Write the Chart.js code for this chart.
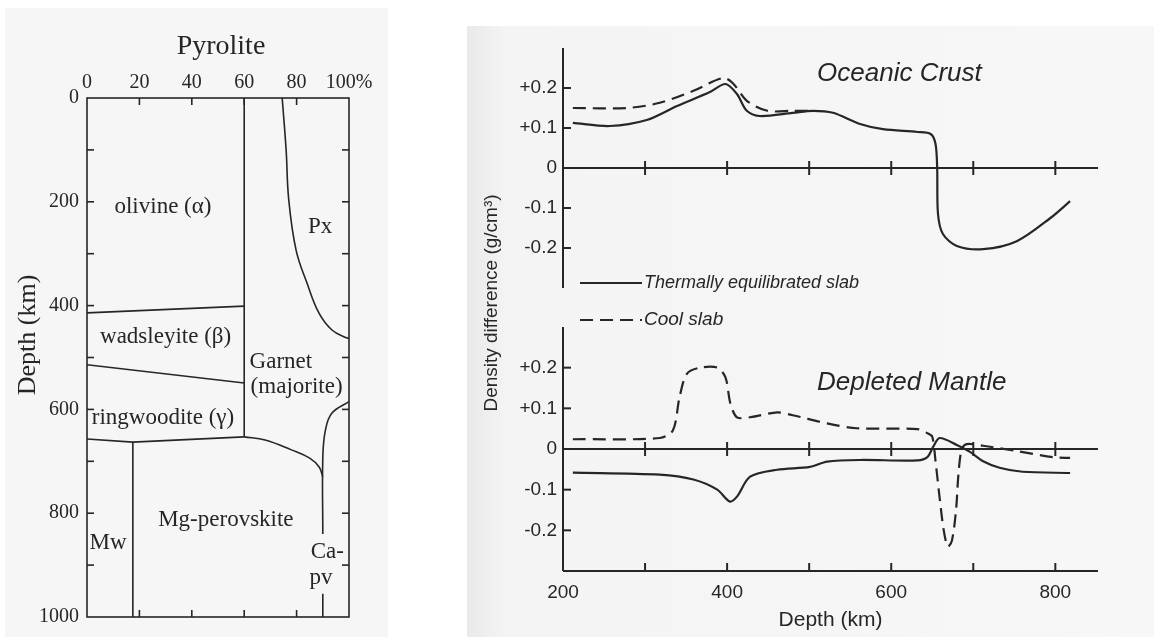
<!DOCTYPE html>
<html>
<head>
<meta charset="utf-8">
<script src="https://cdn.jsdelivr.net/npm/chart.js@4.4.0/dist/chart.umd.min.js"></script>
<style>
  body { margin: 0; width: 1154px; height: 637px; background: #fff; position: relative; overflow: hidden; }
  #leftBg { position: absolute; left: 5px; top: 8px; width: 383px; height: 629px; background: #f6f6f6; }
  #rightBg { position: absolute; left: 467px; top: 26px; width: 687px; height: 611px;
             background: linear-gradient(to right, #e9e9e9, #f4f4f4 40px, #f7f7f7); }
  .box { position: absolute; top: 0; height: 637px; }
</style>
</head>
<body>
<div id="leftBg"></div>
<div id="rightBg"></div>
<div class="box" style="left:0;width:400px"><canvas id="pyrolite"></canvas></div>
<div class="box" style="left:465px;width:689px"><canvas id="density"></canvas></div>
<script>
// ---- Pyrolite: phase boundaries as [percent, depth km] ----
const pxEdge = [[74.5,0],[76,100],[77,196],[79.8,293],[84,357],[88.5,414],[93.5,447],[99,462],[100,463]];
const olivineGarnetEdge = [[60,0],[60,653]];
const olivineWadsEdge = [[0,414],[60,401]];
const wadsRingEdge = [[0,514],[60,549]];
const ringBottomEdge = [[0,657],[17.5,663],[60,653]];
const garnetPvEdge = [[60,653],[68,659],[78,678],[85,694],[88.6,711],[90,730]];
const mwEdge = [[17.5,663],[17.5,1000]];
const caPvEdge = [[100,585],[93.5,607],[91,640],[90,692],[90,840]];
const caPvFoot = [[90,955],[90,1000]];
const pctTicks = [0,20,40,60,80,100];
const depthTicks = [0,200,400,600,800,1000];
const phaseNames = ['olivine (α)','Px','wadsleyite (β)','Garnet','(majorite)','ringwoodite (γ)','Mg-perovskite','Mw','Ca-','pv'];
const phasePct   = [29, 89, 30, 74, 80, 29, 53, 8, 91.7, 89.3];
const phaseDepth = [210, 248, 460, 508, 556, 617, 813, 857, 875, 925];

// ---- Density difference: [depth km, g/cm3] ----
const crustThermal = [[212,0.113],[257,0.105],[302,0.12],[339,0.155],[379,0.19],[398,0.21],[412,0.185],[424,0.143],[440,0.13],[480,0.138],[505,0.143],[529,0.138],[562,0.11],[590,0.097],[632,0.09],[648,0.085],[654,0.06],[656,0],[657,-0.115],[663,-0.165],[680,-0.195],[712,-0.203],[753,-0.183],[794,-0.125],[818,-0.083]];
const crustCool = [[212,0.15],[278,0.15],[318,0.163],[359,0.193],[395,0.225],[407,0.212],[424,0.168],[449,0.143],[480,0.143],[505,0.143]];
const mantleThermal = [[212,-0.058],[318,-0.063],[359,-0.075],[388,-0.1],[403,-0.129],[412,-0.117],[428,-0.068],[461,-0.051],[501,-0.044],[522,-0.031],[562,-0.027],[632,-0.028],[644,-0.02],[651,0.005],[659,0.027],[680,0.01],[696,-0.007],[712,-0.03],[732,-0.046],[760,-0.056],[818,-0.059]];
const mantleCool = [[212,0.024],[318,0.027],[334,0.046],[342,0.127],[351,0.185],[367,0.2],[388,0.2],[398,0.176],[404,0.112],[412,0.078],[428,0.078],[461,0.09],[480,0.083],[522,0.063],[558,0.051],[632,0.049],[644,0.039],[650,0.03],[654,-0.03],[659,-0.12],[664,-0.2],[669,-0.24],[674,-0.225],[679,-0.15],[682,-0.06],[686,0],[692,0.012],[712,0.008],[753,-0.005],[797,-0.02],[818,-0.022]];
const densTicks = [-0.2,-0.1,0,0.1,0.2];
const depthLabels = [200,400,600,800];
const depthMarks = [300,400,500,600,700,800];

const ink = '#262626';
const serif = '"Liberation Serif", "DejaVu Serif", serif';
const sans = '"Liberation Sans", Arial, sans-serif';

function pts(arr) { return arr.map(p => ({x: p[0], y: p[1]})); }
function seg(ctx, x1, y1, x2, y2) { ctx.beginPath(); ctx.moveTo(x1, y1); ctx.lineTo(x2, y2); ctx.stroke(); }

// ---------- left: pyrolite ----------
function edge(data, tension) {
  return { data: pts(data), borderColor: ink, borderWidth: 1.6, pointRadius: 0, tension: tension, fill: false };
}

const pyroDecor = {
  id: 'pyroDecor',
  afterDraw(chart) {
    const {ctx, chartArea: a, scales: {x, y}} = chart;
    ctx.save();
    ctx.strokeStyle = ink;
    ctx.lineWidth = 1.6;
    ctx.strokeRect(a.left, a.top, a.right - a.left, a.bottom - a.top);
    pctTicks.slice(1, -1).forEach(p => {
      const px = x.getPixelForValue(p);
      seg(ctx, px, a.top, px, a.top + 7);
      seg(ctx, px, a.bottom, px, a.bottom - 7);
    });
    for (let d = 100; d < 1000; d += 100) {
      const py = y.getPixelForValue(d);
      seg(ctx, a.left, py, a.left + 7, py);
      seg(ctx, a.right, py, a.right - 7, py);
    }
    ctx.fillStyle = ink;
    ctx.textAlign = 'center';
    ctx.textBaseline = 'middle';
    ctx.font = '23px ' + serif;
    phaseNames.forEach((t, i) => {
      ctx.fillText(t, x.getPixelForValue(phasePct[i]), y.getPixelForValue(phaseDepth[i]));
    });
    ctx.font = '28px ' + serif;
    ctx.fillText('Pyrolite', 221, 47);
    ctx.translate(28, 335);
    ctx.rotate(-Math.PI / 2);
    ctx.font = '26px ' + serif;
    ctx.fillText('Depth (km)', 0, 0);
    ctx.restore();
  }
};

new Chart(document.getElementById('pyrolite'), {
  type: 'line',
  data: {
    datasets: [
      edge(pxEdge, 0.4), edge(olivineGarnetEdge, 0), edge(olivineWadsEdge, 0),
      edge(wadsRingEdge, 0), edge(ringBottomEdge, 0), edge(garnetPvEdge, 0.4),
      edge(mwEdge, 0), edge(caPvEdge, 0.4), edge(caPvFoot, 0)
    ]
  },
  options: {
    responsive: true,
    maintainAspectRatio: false,
    animation: false,
    layout: { padding: { top: 0, left: 0, right: 51, bottom: 20 } },
    plugins: { legend: { display: false }, tooltip: { enabled: false } },
    scales: {
      x: {
        type: 'linear', position: 'top', min: 0, max: 100,
        afterBuildTicks: s => { s.ticks = pctTicks.map(v => ({value: v})); },
        afterFit: s => { s.height = 98; },
        grid: { display: false, drawTicks: false },
        border: { display: false },
        ticks: { color: ink, padding: 3, maxRotation: 0, minRotation: 0, autoSkip: false,
                 font: { family: serif, size: 20 },
                 callback: v => v === 100 ? '100%' : String(v) }
      },
      y: {
        type: 'linear', reverse: true, min: 0, max: 1000,
        afterBuildTicks: s => { s.ticks = depthTicks.map(v => ({value: v})); },
        afterFit: s => { s.width = 87; },
        grid: { display: false, drawTicks: false },
        border: { display: false },
        ticks: { color: ink, padding: 8, autoSkip: false, font: { family: serif, size: 20 },
                 callback: v => String(v) }
      }
    }
  },
  plugins: [pyroDecor]
});

// ---------- right: density difference ----------
function curve(label, data, axis, dashed) {
  return { label: label, data: pts(data), yAxisID: axis, borderColor: ink, borderWidth: 2.2,
           borderDash: dashed ? [13, 7] : [], pointRadius: 0, tension: 0.3, fill: false };
}

const slabDecor = {
  id: 'slabDecor',
  afterDraw(chart) {
    const {ctx, scales: {x, yTop, yBot}} = chart;
    ctx.save();
    ctx.strokeStyle = ink;
    ctx.lineWidth = 2;
    [yTop, yBot].forEach(ys => {
      seg(ctx, x.left, ys.top, x.left, ys.bottom);
      const y0 = ys.getPixelForValue(0);
      seg(ctx, x.left, y0, x.right, y0);
      depthMarks.forEach(d => {
        const px = x.getPixelForValue(d);
        seg(ctx, px, y0 - 7, px, y0 + 7);
      });
      densTicks.filter(v => v !== 0).forEach(v => {
        const py = ys.getPixelForValue(v);
        seg(ctx, x.left, py, x.left + 8, py);
      });
    });
    seg(ctx, x.left, yBot.bottom, x.right, yBot.bottom);
    depthMarks.forEach(d => {
      const px = x.getPixelForValue(d);
      seg(ctx, px, yBot.bottom, px, yBot.bottom - 8);
    });

    ctx.fillStyle = ink;
    ctx.textBaseline = 'middle';
    ctx.textAlign = 'center';
    ctx.font = 'italic 26px ' + sans;
    ctx.fillText('Oceanic Crust', x.getPixelForValue(610), yTop.getPixelForValue(0.235));
    ctx.fillText('Depleted Mantle', x.getPixelForValue(625), yBot.getPixelForValue(0.163));

    // legend between the two panels
    const ds = chart.data.datasets;
    const lx = x.left + 17;
    [[ds[0], yTop.bottom - 5, 18], [ds[1], yTop.bottom + 32, 19]].forEach(([d, ly, fs]) => {
      ctx.setLineDash(d.borderDash);
      ctx.lineWidth = 2.2;
      seg(ctx, lx, ly, lx + 62, ly);
      ctx.setLineDash([]);
      ctx.textAlign = 'left';
      ctx.font = 'italic ' + fs + 'px ' + sans;
      ctx.fillText(d.label, lx + 64, ly);
    });

    ctx.translate(27, 303);
    ctx.rotate(-Math.PI / 2);
    ctx.textAlign = 'center';
    ctx.font = '19px ' + sans;
    ctx.fillText('Density difference (g/cm³)', 0, 0);
    ctx.restore();
  }
};

const densAxis = (weight, stackWeight) => ({
  type: 'linear', position: 'left', stack: 'dens', weight: weight, stackWeight: stackWeight,
  min: -0.3, max: 0.3,
  afterBuildTicks: s => { s.ticks = densTicks.map(v => ({value: v})); },
  afterFit: s => { s.width = 98; },
  grid: { display: false, drawTicks: false },
  border: { display: false },
  ticks: { color: ink, padding: 6, font: { family: sans, size: 19 },
           callback: v => v > 0 ? '+' + v.toFixed(1) : (v === 0 ? '0' : v.toFixed(1)) }
});

new Chart(document.getElementById('density'), {
  type: 'line',
  data: {
    datasets: [
      curve('Thermally equilibrated slab', crustThermal, 'yTop', false),
      curve('Cool slab', crustCool, 'yTop', true),
      curve('Thermally equilibrated slab', mantleThermal, 'yBot', false),
      curve('Cool slab', mantleCool, 'yBot', true)
    ]
  },
  options: {
    responsive: true,
    maintainAspectRatio: false,
    animation: false,
    layout: { padding: { top: 48, left: 0, right: 56, bottom: 0 } },
    plugins: { legend: { display: false }, tooltip: { enabled: false } },
    scales: {
      x: {
        type: 'linear', min: 200, max: 852,
        afterBuildTicks: s => { s.ticks = depthLabels.map(v => ({value: v})); },
        afterFit: s => { s.height = 66; },
        grid: { display: false, drawTicks: false },
        border: { display: false },
        ticks: { color: ink, padding: 10, maxRotation: 0, font: { family: sans, size: 19 } },
        title: { display: true, text: 'Depth (km)', color: ink, padding: { top: 0, bottom: 4 },
                 font: { family: sans, size: 21 } }
      },
      yBot: densAxis(1, 244),
      yGap: {
        type: 'linear', position: 'left', stack: 'dens', weight: 2, stackWeight: 39,
        min: 0, max: 1,
        afterFit: s => { s.width = 98; },
        grid: { display: false, drawTicks: false },
        border: { display: false },
        ticks: { display: false }
      },
      yTop: densAxis(3, 240)
    }
  },
  plugins: [slabDecor]
});
</script>
</body>
</html>
